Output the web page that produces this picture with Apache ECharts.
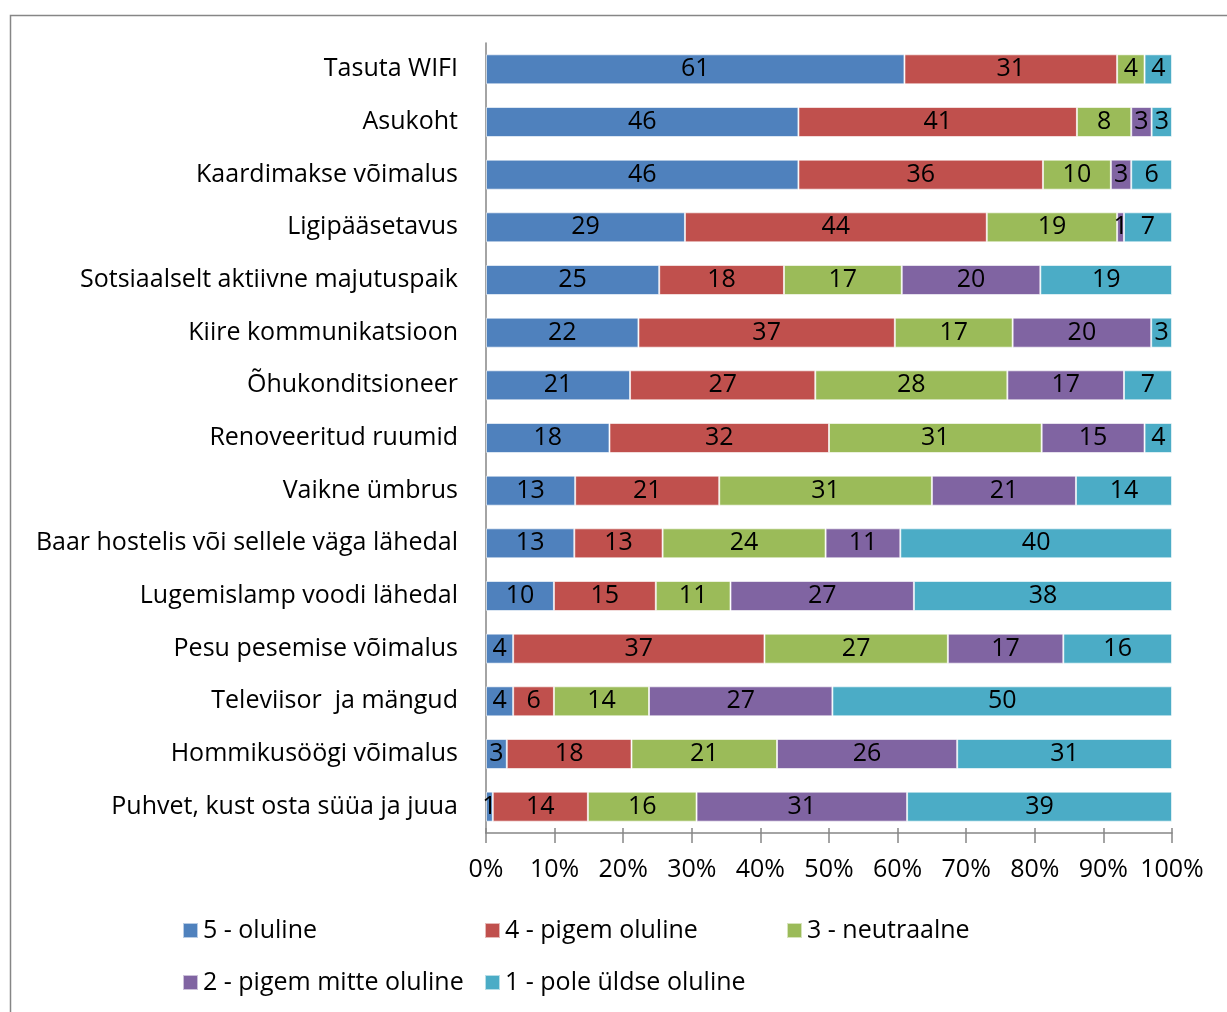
<!DOCTYPE html>
<html><head><meta charset="utf-8">
<script src="https://cdn.jsdelivr.net/npm/echarts@6/dist/echarts.min.js"></script>
<style>html,body{margin:0;padding:0;background:#fff}#c{width:1227px;height:1012px}</style>
</head><body><div id="c"></div>
<script>
const categories = [
  "Tasuta WIFI","Asukoht","Kaardimakse võimalus","Ligipääsetavus",
  "Sotsiaalselt aktiivne majutuspaik","Kiire kommunikatsioon","Õhukonditsioneer",
  "Renoveeritud ruumid","Vaikne ümbrus","Baar hostelis või sellele väga lähedal",
  "Lugemislamp voodi lähedal","Pesu pesemise võimalus","Televiisor  ja mängud",
  "Hommikusöögi võimalus","Puhvet, kust osta süüa ja juua"
];
const seriesNames = ["5 - oluline","4 - pigem oluline","3 - neutraalne","2 - pigem mitte oluline","1 - pole üldse oluline"];
const v5 = [61,46,46,29,25,22,21,18,13,13,10,4,4,3,1];
const v4 = [31,41,36,44,18,37,27,32,21,13,15,37,6,18,14];
const v3 = [4,8,10,19,17,17,28,31,31,24,11,27,14,21,16];
const v2 = [0,3,3,1,20,20,17,15,21,11,27,17,27,26,31];
const v1 = [4,3,6,7,19,3,7,4,14,40,38,16,50,31,39];
const tickLabels = ["0%","10%","20%","30%","40%","50%","60%","70%","80%","90%","100%"];

const colors = ["#4F81BD","#C0504D","#9BBB59","#8064A2","#4BACC6"];
const all = [v5,v4,v3,v2,v1];
const sums = categories.map((_,i)=>all.reduce((s,a)=>s+a[i],0));
const FONT = "Open Sans";
const FS = 25;

const series = all.map((arr,k)=>({
  name: seriesNames[k], type:'bar', stack:'s',
  barWidth: 30,
  data: arr.map((v,i)=> v/sums[i]*100),
  itemStyle:{color:colors[k], borderColor:'rgba(255,255,255,0.6)', borderWidth:1},
  label:{show:true, position:'inside', color:'#000', fontFamily:FONT, fontSize:FS,
    formatter: p => arr[p.dataIndex] ? String(arr[p.dataIndex]) : ''},
  emphasis:{disabled:true}
}));

const legendPos = [[177,913],[479,913],[781,913],[177,965],[479,965]];
const legends = seriesNames.map((n,k)=>({
  data:[n], left:legendPos[k][0], top:legendPos[k][1],
  icon:'rect', itemWidth:15, itemHeight:15,
  textStyle:{fontFamily:FONT, fontSize:FS, color:'#000', padding:[0,0,0,0]},
  selectedMode:false
}));

const chart = echarts.init(document.getElementById('c'));
chart.setOption({
  animation:false,
  graphic:[{type:'rect', left:8, top:13, shape:{width:1400,height:1200},
    style:{fill:'none', stroke:'#868686', lineWidth:1.5}, silent:true}],
  legend: legends,
  grid:{left:486, right:55, top:43, bottom:179},
  xAxis:[{
    type:'value', min:0, max:100, interval:10,
    axisLine:{show:true, lineStyle:{color:'#868686', width:1.5}},
    axisTick:{show:true, length:10, lineStyle:{color:'#868686', width:1.5}},
    splitLine:{show:false},
    axisLabel:{formatter:(v)=>tickLabels[Math.round(v/10)], fontFamily:FONT, fontSize:FS, color:'#000', margin:24}
  },{
    type:'value', min:0, max:100, interval:10, position:'bottom', offset:0,
    axisLine:{show:false}, axisLabel:{show:false}, splitLine:{show:false},
    axisTick:{show:true, inside:true, length:5, lineStyle:{color:'#868686', width:1.5}}
  }],
  yAxis:{
    type:'category', data:categories, inverse:true,
    axisLine:{show:true, lineStyle:{color:'#868686', width:1.5}},
    axisTick:{show:false},
    axisLabel:{fontFamily:FONT, fontSize:FS, color:'#000', margin:28}
  },
  series: series
});
</script></body></html>
